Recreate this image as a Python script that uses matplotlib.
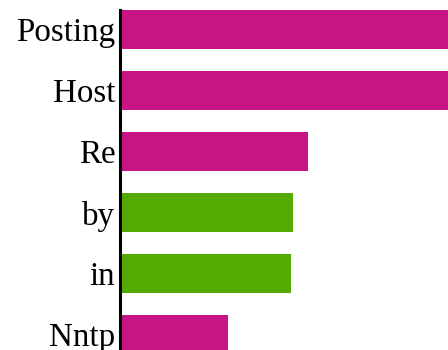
import matplotlib.pyplot as plt

# word weights, top to bottom
words = ['Posting', 'Host', 'Re', 'by', 'in', 'Nntp']
weights = [0.42, 0.40, 0.1885, 0.1738, 0.1715, 0.1082]
colors = ['#C71585', '#C71585', '#C71585', '#54AA00', '#54AA00', '#C71585']

W, H = 448, 350
fig = plt.figure(figsize=(W / 100, H / 100), dpi=100)
ax = fig.add_axes([119.5 / W, 0, (W - 119.5) / W, 340 / H])

pos = range(len(words))
ax.barh(pos, weights, height=0.64, color=colors)

ax.set_xlim(0, 0.3285)
ax.set_ylim((350 - 29.5) / 61, -0.32)

ax.set_yticks(list(pos))
ax.set_yticklabels(words, fontfamily='Liberation Serif', fontsize=23.8)
ax.tick_params(axis='y', length=0, pad=3)
ax.set_xticks([])

for s in ['top', 'right', 'bottom']:
    ax.spines[s].set_visible(False)
ax.spines['left'].set_linewidth(2.2)
ax.spines['left'].set_zorder(5)

fig.savefig('out.png', dpi=100)
